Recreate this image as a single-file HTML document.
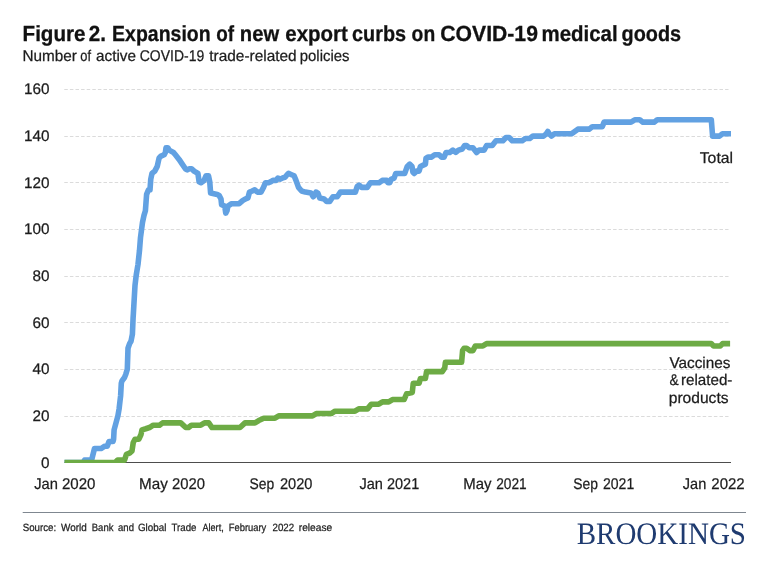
<!DOCTYPE html>
<html lang="en"><head><meta charset="utf-8"><title>Figure 2. Expansion of new export curbs on COVID-19 medical goods</title>
<style>
html,body{margin:0;padding:0;background:#fff;}
body{width:768px;height:576px;overflow:hidden;}
svg{display:block;}
text{font-family:"Liberation Sans",sans-serif;fill:#1c1c1c;white-space:pre;text-rendering:geometricPrecision;}
.t{font-weight:bold;fill:#111;stroke:#111;stroke-width:0.3px;}
.s{fill:#1c1c1c;stroke:#1c1c1c;stroke-width:0.25px;}
.ax{font-size:15.3px;fill:#1c1c1c;stroke:#1c1c1c;stroke-width:0.25px;}
.lab{fill:#1c1c1c;stroke:#1c1c1c;stroke-width:0.25px;}
.src{fill:#222;stroke:#222;stroke-width:0.25px;}
.g{stroke:#dbdbdb;stroke-width:1;stroke-dasharray:3.5 2.1;}
.bk{font-family:"Liberation Serif",serif;fill:#1f3b70;}
</style></head>
<body>
<svg width="768" height="576" viewBox="0 0 768 576">
<rect width="768" height="576" fill="#fff"/>
<text y="41" class="t" style="font-size:21.9px"><tspan x="22.56" textLength="62.98" lengthAdjust="spacingAndGlyphs">Figure</tspan> <tspan x="88.8" textLength="17.19" lengthAdjust="spacingAndGlyphs">2.</tspan> <tspan x="112.11" textLength="98.52" lengthAdjust="spacingAndGlyphs">Expansion</tspan> <tspan x="216.14" textLength="17.83" lengthAdjust="spacingAndGlyphs">of</tspan> <tspan x="239.83" textLength="39.28" lengthAdjust="spacingAndGlyphs">new</tspan> <tspan x="285.31" textLength="62.6" lengthAdjust="spacingAndGlyphs">export</tspan> <tspan x="352.09" textLength="53.97" lengthAdjust="spacingAndGlyphs">curbs</tspan> <tspan x="411.62" textLength="23.54" lengthAdjust="spacingAndGlyphs">on</tspan> <tspan x="440.28" textLength="97.65" lengthAdjust="spacingAndGlyphs">COVID-19</tspan> <tspan x="541.57" textLength="76.11" lengthAdjust="spacingAndGlyphs">medical</tspan> <tspan x="621.59" textLength="59.52" lengthAdjust="spacingAndGlyphs">goods</tspan></text>
<text y="61" class="s" style="font-size:15.5px"><tspan x="22.51" textLength="54.37" lengthAdjust="spacingAndGlyphs">Number</tspan> <tspan x="80.25" textLength="10.7" lengthAdjust="spacingAndGlyphs">of</tspan> <tspan x="96.0" textLength="39.99" lengthAdjust="spacingAndGlyphs">active</tspan> <tspan x="139.75" textLength="64.45" lengthAdjust="spacingAndGlyphs">COVID-19</tspan> <tspan x="209.25" textLength="87.39" lengthAdjust="spacingAndGlyphs">trade-related</tspan> <tspan x="299.79" textLength="49.63" lengthAdjust="spacingAndGlyphs">policies</tspan></text>
<line x1="64.3" x2="728.5" y1="416.50" y2="416.50" class="g"/>
<line x1="64.3" x2="728.5" y1="369.50" y2="369.50" class="g"/>
<line x1="64.3" x2="728.5" y1="322.50" y2="322.50" class="g"/>
<line x1="64.3" x2="728.5" y1="276.50" y2="276.50" class="g"/>
<line x1="64.3" x2="728.5" y1="229.50" y2="229.50" class="g"/>
<line x1="64.3" x2="728.5" y1="182.50" y2="182.50" class="g"/>
<line x1="64.3" x2="728.5" y1="136.50" y2="136.50" class="g"/>
<line x1="64.3" x2="728.5" y1="89.50" y2="89.50" class="g"/>
<text x="49.6" y="468" text-anchor="end" class="ax">0</text>
<text x="49.6" y="421" text-anchor="end" class="ax">20</text>
<text x="49.6" y="374" text-anchor="end" class="ax">40</text>
<text x="49.6" y="328" text-anchor="end" class="ax">60</text>
<text x="49.6" y="281" text-anchor="end" class="ax">80</text>
<text x="49.6" y="234" text-anchor="end" class="ax">100</text>
<text x="49.6" y="188" text-anchor="end" class="ax">120</text>
<text x="49.6" y="141" text-anchor="end" class="ax">140</text>
<text x="49.6" y="94" text-anchor="end" class="ax">160</text>
<line x1="64.5" x2="731" y1="462.5" y2="462.5" stroke="#4d4d4d" stroke-width="1"/>
<defs><clipPath id="cp"><rect x="64.5" y="80" width="680" height="383"/></clipPath></defs>
<g clip-path="url(#cp)" fill="none" stroke-width="5.6" stroke-linejoin="round" stroke-linecap="butt">
<polyline stroke="#62a1e2" points="64,462.50 83,462.50 84.5,460.17 91.6,460.17 94.5,448.51 101,448.51 104.75,446.18 107.25,446.18 109,441.52 113,441.52 113.6,439.19 114.1,429.86 116,422.87 117.9,415.88 119.1,408.88 120,401.00 120.6,396.00 121.3,383.24 122,380.91 124.5,377.50 125.9,373.91 127.3,369.25 128,348.27 129.6,343.61 131,341.27 132.4,334.28 133.1,317.96 133.4,313.30 135,285.33 136.25,275.00 138,264.34 139.5,250.36 140.5,237.50 142.5,222.38 144,215.39 145.4,210.73 146.6,194.41 148.5,189.74 150,189.74 150.75,179.25 152,173.43 154.75,171.09 157.25,166.43 159.1,158.00 161,156.10 164.1,154.78 165.4,152.44 166,147.78 167.9,147.78 169.1,150.11 173.5,152.44 175.4,154.78 179.1,159.44 182.25,164.10 185.4,168.76 187.25,169.90 189.1,168.76 191.6,168.76 194.1,171.09 197.9,173.43 199.1,181.75 201,182.75 204.1,180.42 206,175.76 208.5,175.76 209.75,181.75 210.6,193.00 217.25,194.41 219.1,195.40 221,199.07 221.6,204.75 224.75,206.06 225.75,213.06 227,210.73 227.9,206.06 231.6,203.73 234.75,203.73 239.1,203.73 242.9,200.40 245.4,199.07 247.9,197.90 249.5,192.08 252.25,191.00 254.75,189.74 257.25,192.08 261,192.08 263.5,187.41 265.4,182.75 268.5,182.75 271,181.60 272.9,180.42 276,180.42 277.9,178.09 280.4,179.10 282.25,178.09 285.4,177.00 287,174.75 288.5,173.43 291.6,174.75 294.1,175.76 296,180.42 298.5,187.41 301.6,191.00 305.4,192.08 311,193.10 313.25,196.74 316,192.08 317.9,193.10 319.75,198.10 324.1,199.07 326.6,201.40 329.75,201.40 332.9,196.74 337.25,196.74 340.4,192.08 355.4,192.08 357.25,186.25 359.1,185.08 361.6,187.41 367.25,187.41 370.4,182.75 379.1,182.75 382.25,180.42 386.6,180.42 387.9,182.75 389.75,182.75 391,179.40 394.1,178.09 395.75,173.43 397.5,173.43 404.75,173.43 407.25,166.43 409.75,164.10 412,166.43 412.9,172.10 414.1,173.43 416.6,171.09 419.1,171.09 420.4,166.43 425.4,164.10 426,158.40 427.9,157.11 431.6,157.11 434.75,154.78 439.1,154.78 441.6,157.11 444.1,157.11 446,152.44 449.75,152.44 452.9,150.11 455.75,152.44 458.5,150.11 462.25,149.00 464.75,145.45 466.6,145.45 469.1,147.78 472.9,147.78 476.6,152.44 479.1,150.11 484.1,150.11 486.6,145.45 487.9,145.45 492.25,145.45 496,140.79 502.9,140.79 506,137.50 509.1,137.50 512.25,140.79 522.25,140.79 525.4,138.46 529.75,138.46 532.9,136.12 543.5,136.12 546.3,133.79 547.8,131.46 549.2,133.79 551.5,136.12 554.5,133.79 571.6,133.79 574.75,131.46 577.9,129.13 589.1,129.13 592.25,126.80 602.25,126.80 604.1,122.14 629.75,122.14 631,122.14 634.75,119.81 639.75,119.81 642.9,122.14 654.1,122.14 657.25,119.81 711.3,119.81 712.6,136.12 719.5,136.12 722.5,133.79 731,133.79"/>
<polyline stroke="#6dab45" points="62,462.50 115.1,462.50 117.6,460.17 124.5,460.17 126.4,454.40 129.5,453.18 132,450.84 133.25,442.50 135.1,439.19 138.9,439.19 141,434.52 142,429.86 145.75,428.75 149.5,427.53 153.25,425.20 159.5,425.20 162.6,422.87 180.75,422.87 185.75,427.53 188.5,427.53 191.4,425.20 200.75,425.20 204.5,422.87 208.75,422.87 212,427.53 240,427.53 245,422.87 255,422.87 258.75,420.54 263.75,418.21 275,418.21 278.75,415.88 312.5,415.88 316.25,413.54 331.25,413.54 335,411.21 355,411.21 358.75,408.88 367.5,408.88 371.25,404.22 378.75,404.22 382.5,401.89 388.75,401.89 392.5,399.56 404.1,399.56 406.6,393.75 412.25,392.56 413.25,383.24 419.1,383.24 420.4,378.57 425.4,378.57 426.6,371.58 442.25,371.58 444.75,367.90 445.4,362.26 461.6,362.26 462.6,350.60 464.1,348.27 466.6,348.27 469.75,350.60 472.9,350.60 475.4,345.94 482.9,345.94 486.6,343.61 711.2,343.61 713.6,345.94 720.4,345.94 722.6,343.61 730.1,343.61"/>
</g>
<text y="489" class="ax" style="font-size:15.5px"><tspan x="34.25" textLength="23.7" lengthAdjust="spacingAndGlyphs">Jan</tspan> <tspan x="62.0" textLength="33.47" lengthAdjust="spacingAndGlyphs">2020</tspan></text>
<text y="489" class="ax" style="font-size:15.5px"><tspan x="139.02" textLength="28.77" lengthAdjust="spacingAndGlyphs">May</tspan> <tspan x="172.0" textLength="32.96" lengthAdjust="spacingAndGlyphs">2020</tspan></text>
<text y="489" class="ax" style="font-size:15.5px"><tspan x="249.61" textLength="24.68" lengthAdjust="spacingAndGlyphs">Sep</tspan> <tspan x="280.0" textLength="32.46" lengthAdjust="spacingAndGlyphs">2020</tspan></text>
<text y="489" class="ax" style="font-size:15.5px"><tspan x="359.5" textLength="23.44" lengthAdjust="spacingAndGlyphs">Jan</tspan> <tspan x="387.0" textLength="32.2" lengthAdjust="spacingAndGlyphs">2021</tspan></text>
<text y="489" class="ax" style="font-size:15.5px"><tspan x="463.29" textLength="28.25" lengthAdjust="spacingAndGlyphs">May</tspan> <tspan x="496.25" textLength="30.43" lengthAdjust="spacingAndGlyphs">2021</tspan></text>
<text y="489" class="ax" style="font-size:15.5px"><tspan x="573.36" textLength="24.68" lengthAdjust="spacingAndGlyphs">Sep</tspan> <tspan x="603.0" textLength="31.19" lengthAdjust="spacingAndGlyphs">2021</tspan></text>
<text y="489" class="ax" style="font-size:15.5px"><tspan x="682.8" textLength="23.44" lengthAdjust="spacingAndGlyphs">Jan</tspan> <tspan x="711.3" textLength="33.37" lengthAdjust="spacingAndGlyphs">2022</tspan></text>
<text y="163" class="lab" style="font-size:15.5px"><tspan x="699.75" textLength="33.26" lengthAdjust="spacingAndGlyphs">Total</tspan></text>
<text y="368" class="lab" style="font-size:15.5px"><tspan x="669.4" textLength="61.09" lengthAdjust="spacingAndGlyphs">Vaccines</tspan></text>
<text y="385" class="lab" style="font-size:15.5px"><tspan x="669.4" textLength="9.21" lengthAdjust="spacingAndGlyphs">&amp;</tspan> <tspan x="680.92" textLength="51.53" lengthAdjust="spacingAndGlyphs">related-</tspan></text>
<text y="403" class="lab" style="font-size:15.5px"><tspan x="668.74" textLength="59.81" lengthAdjust="spacingAndGlyphs">products</tspan></text>
<line x1="22.7" x2="746" y1="512.5" y2="512.5" stroke="#7f8790" stroke-width="1"/>
<text y="531" class="src" style="font-size:10.5px"><tspan x="22.75" textLength="33.42" lengthAdjust="spacingAndGlyphs">Source:</tspan> <tspan x="61.0" textLength="25.72" lengthAdjust="spacingAndGlyphs">World</tspan> <tspan x="91.75" textLength="21.69" lengthAdjust="spacingAndGlyphs">Bank</tspan> <tspan x="118.0" textLength="15.98" lengthAdjust="spacingAndGlyphs">and</tspan> <tspan x="138.0" textLength="28.34" lengthAdjust="spacingAndGlyphs">Global</tspan> <tspan x="171.5" textLength="24.94" lengthAdjust="spacingAndGlyphs">Trade</tspan> <tspan x="202.5" textLength="21.2" lengthAdjust="spacingAndGlyphs">Alert,</tspan> <tspan x="228.75" textLength="37.51" lengthAdjust="spacingAndGlyphs">February</tspan> <tspan x="272.5" textLength="21.58" lengthAdjust="spacingAndGlyphs">2022</tspan> <tspan x="298.75" textLength="33.44" lengthAdjust="spacingAndGlyphs">release</tspan></text>
<text y="544" class="bk" style="font-size:31.2px"><tspan x="576.67" textLength="169.35" lengthAdjust="spacingAndGlyphs">BROOKINGS</tspan></text>
</svg>
</body></html>
